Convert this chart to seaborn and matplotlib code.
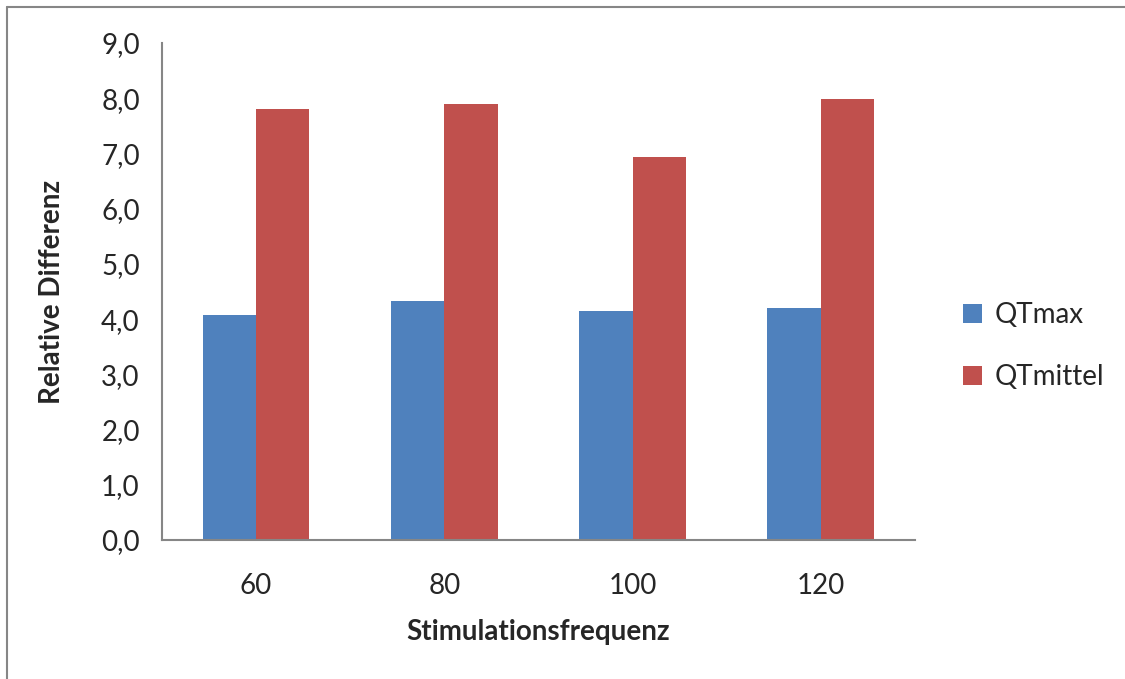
import pandas as pd
import seaborn as sns
import matplotlib.pyplot as plt
from matplotlib.ticker import FuncFormatter, FixedLocator
from matplotlib.lines import Line2D

frequencies = ["60", "80", "100", "120"]
qt_max = [4.07, 4.33, 4.15, 4.21]
qt_mittel = [7.80, 7.89, 6.93, 7.99]
series_names = ["QTmax", "QTmittel"]

df = pd.DataFrame({
    "Stimulationsfrequenz": frequencies * 2,
    "Wert": qt_max + qt_mittel,
    "Serie": [series_names[0]] * 4 + [series_names[1]] * 4,
})

sns.set_style("white")
plt.rcParams["font.family"] = ["Lato", "DejaVu Sans"]
plt.rcParams["font.size"] = 20

grey = "#868686"
palette = {"QTmax": "#4F81BD", "QTmittel": "#C0504D"}

fig = plt.figure(figsize=(11.25, 6.79), dpi=100)
ax = fig.add_axes([0.144, 0.2047, 0.6693, 0.732])

sns.barplot(data=df, x="Stimulationsfrequenz", y="Wert", hue="Serie",
            order=frequencies, hue_order=series_names, palette=palette,
            width=0.567, saturation=1, edgecolor="none", ax=ax)

ax.set_xlim(-0.5, 3.5)
ax.set_ylim(0, 9)
ax.set_yticks(range(0, 10))
ax.yaxis.set_major_formatter(FuncFormatter(lambda v, p: f"{v:.1f}".replace(".", ",")))

ax.xaxis.set_minor_locator(FixedLocator([-0.5, 0.5, 1.5, 2.5, 3.5]))
ax.tick_params(axis="x", which="major", length=0, pad=24, labelsize=20)
ax.tick_params(axis="x", which="minor", length=7, width=1.5, color=grey, direction="out")
ax.tick_params(axis="y", length=7, width=1.5, color=grey, direction="out", pad=9, labelsize=20)

for side in ["top", "right"]:
    ax.spines[side].set_visible(False)
for side in ["left", "bottom"]:
    ax.spines[side].set_color(grey)
    ax.spines[side].set_linewidth(1.5)

ax.set_xlabel("Stimulationsfrequenz", fontsize=20, fontweight="bold", labelpad=14)
ax.set_ylabel("Relative Differenz", fontsize=20, fontweight="bold", labelpad=26)

handles, labels = ax.get_legend_handles_labels()
ax.legend(handles, labels, loc="center left", bbox_to_anchor=(1.03, 0.39),
          frameon=False, fontsize=20, handlelength=0.7, handleheight=0.7,
          handletextpad=0.45, labelspacing=1.3)

# outer chart border (left and top only visible)
fig.add_artist(Line2D([0.0065, 0.0065], [0, 0.99], transform=fig.transFigure,
                      color=grey, linewidth=1.5))
fig.add_artist(Line2D([0.0065, 1], [0.99, 0.99], transform=fig.transFigure,
                      color=grey, linewidth=1.5))

fig.savefig("out.png", dpi=100)
